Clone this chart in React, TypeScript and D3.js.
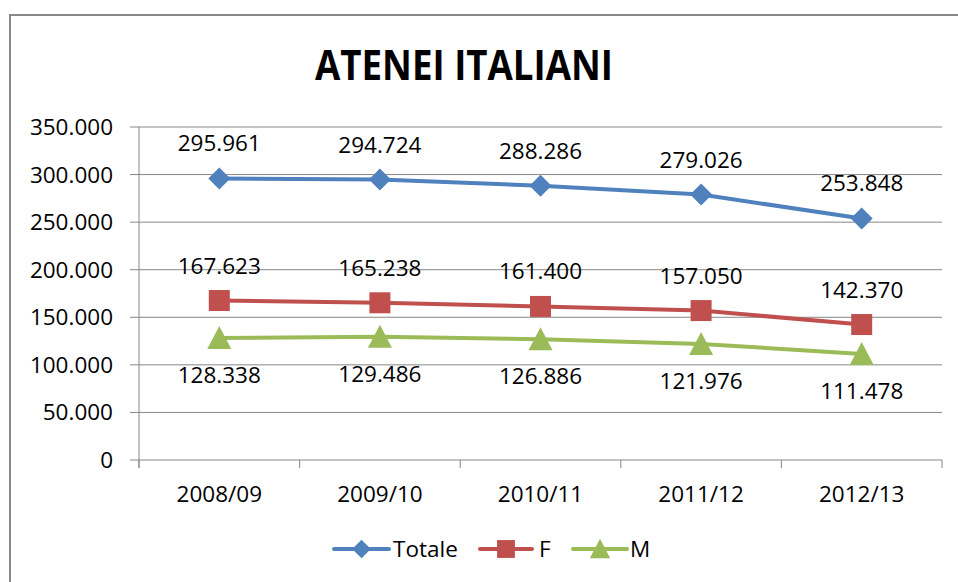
import React from "react";
import * as d3 from "d3";

const categories = ["2008/09", "2009/10", "2010/11", "2011/12", "2012/13"];
const totale = [295961, 294724, 288286, 279026, 253848];
const femmine = [167623, 165238, 161400, 157050, 142370];
const maschi = [128338, 129486, 126886, 121976, 111478];
const yTicks = [0, 50000, 100000, 150000, 200000, 250000, 300000, 350000];
const title = "ATENEI ITALIANI";

const W = 958;
const H = 582;
const FONT = "'Open Sans', 'Noto Sans', sans-serif";
const FS = 22.5;

const it = d3.formatLocale({ decimal: ",", thousands: ".", grouping: [3], currency: ["€", ""] });
const fmt = it.format(",");

const series = [
  { name: "Totale", values: totale, color: "#4F81BD", marker: "diamond", labelPos: "above" },
  { name: "F", values: femmine, color: "#C0504D", marker: "square", labelPos: "above" },
  { name: "M", values: maschi, color: "#9BBB59", marker: "triangle", labelPos: "below" },
];

function Marker({ type, x, y, color }: { type: string; x: number; y: number; color: string }) {
  if (type === "diamond") {
    const r = 11;
    return <path d={`M${x},${y - r}L${x + r},${y}L${x},${y + r}L${x - r},${y}Z`} fill={color} />;
  }
  if (type === "square") {
    const s = 21;
    return <rect x={x - s / 2} y={y - s / 2} width={s} height={s} fill={color} />;
  }
  const h = 22;
  const w = 24;
  return <path d={`M${x},${y - h / 2 - 1}L${x + w / 2},${y + h / 2}L${x - w / 2},${y + h / 2}Z`} fill={color} />;
}

export default function App() {
  const left = 139;
  const right = 942;
  const top = 127;
  const bottom = 460;
  const x = d3.scaleBand<string>().domain(categories).range([left, right]);
  const y = d3.scaleLinear().domain([0, 350000]).range([bottom, top]);
  const cx = (c: string) => (x(c) as number) + x.bandwidth() / 2;
  const line = d3
    .line<number>()
    .x((_, i) => cx(categories[i]))
    .y((v) => y(v));
  const grid = "#878787";
  const boundaries = categories.map((c) => x(c) as number).concat([right]);

  return (
    <svg width={W} height={H} style={{ position: "absolute", left: 0, top: 0, background: "#fff" }}>
      <rect x={0} y={0} width={W} height={H} fill="#fff" />
      {/* frame */}
      <path d={`M10,${H + 2}L10,15L${W + 2},15`} fill="none" stroke="#888" strokeWidth={2} />
      <text
        x={464}
        y={80}
        textAnchor="middle"
        fontFamily={FONT}
        fontWeight="bold"
        fontSize={41}
        textLength={298}
        lengthAdjust="spacingAndGlyphs"
        fill="#000"
      >
        {title}
      </text>
      {/* grid */}
      {yTicks.map((t) => (
        <g key={t}>
          <line x1={left - 9} x2={right} y1={y(t)} y2={y(t)} stroke={grid} strokeWidth={1} />
          <text x={113} y={y(t) + 8} textAnchor="end" fontFamily={FONT} fontSize={FS} fill="#000">
            {fmt(t)}
          </text>
        </g>
      ))}
      <line x1={left} x2={left} y1={top} y2={bottom + 8} stroke={grid} strokeWidth={1} />
      {boundaries.map((b, i) => (
        <line key={i} x1={b} x2={b} y1={bottom} y2={bottom + 8} stroke={grid} strokeWidth={1} />
      ))}
      {categories.map((c) => (
        <text key={c} x={cx(c)} y={502} textAnchor="middle" fontFamily={FONT} fontSize={FS} fill="#000">
          {c}
        </text>
      ))}
      {/* series */}
      {series.map((s) => (
        <g key={s.name}>
          <path d={line(s.values) as string} fill="none" stroke={s.color} strokeWidth={4} strokeLinejoin="round" />
          {s.values.map((v, i) => (
            <Marker key={i} type={s.marker} x={cx(categories[i])} y={y(v)} color={s.color} />
          ))}
          {s.values.map((v, i) => (
            <text
              key={"l" + i}
              x={cx(categories[i])}
              y={s.labelPos === "above" ? y(v) - 27 : y(v) + 45}
              textAnchor="middle"
              fontFamily={FONT}
              fontSize={FS}
              fill="#000"
            >
              {fmt(v)}
            </text>
          ))}
        </g>
      ))}
      {/* legend */}
      {[
        { s: series[0], x1: 334, x2: 389, tx: 393 },
        { s: series[1], x1: 480, x2: 532, tx: 539 },
        { s: series[2], x1: 573, x2: 627, tx: 630 },
      ].map((l) => (
        <g key={l.s.name}>
          <line x1={l.x1} x2={l.x2} y1={549} y2={549} stroke={l.s.color} strokeWidth={4} strokeLinecap="round" />
          <g transform={`translate(${(l.x1 + l.x2) / 2},549) scale(0.85) translate(${-(l.x1 + l.x2) / 2},-549)`}>
            <Marker type={l.s.marker} x={(l.x1 + l.x2) / 2} y={549} color={l.s.color} />
          </g>
          <text x={l.tx} y={557} fontFamily={FONT} fontSize={FS} fill="#000">
            {l.s.name}
          </text>
        </g>
      ))}
    </svg>
  );
}
